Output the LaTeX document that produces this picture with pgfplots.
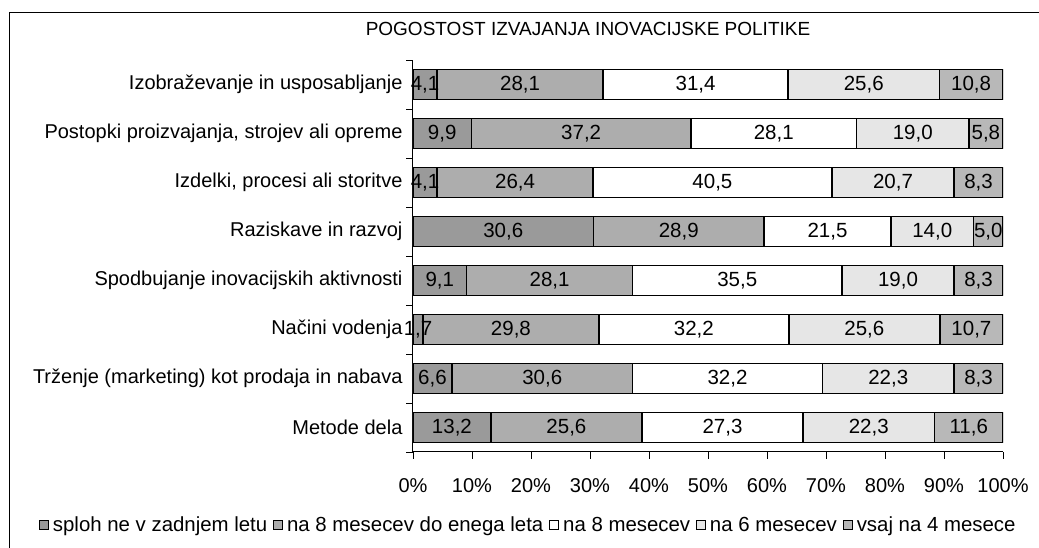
\documentclass[border=0pt]{standalone}
\usepackage{pgfplots}
\usepackage{pgfplotstable}
\pgfplotsset{compat=1.18}
\usepackage{fontspec}
\setmainfont{Liberation Sans}
\definecolor{cA}{HTML}{9A9A9A}
\definecolor{cB}{HTML}{ADADAD}
\definecolor{cC}{HTML}{FFFFFF}
\definecolor{cD}{HTML}{E6E6E6}
\definecolor{cE}{HTML}{B8B8B8}
\pgfplotstableread{
y a b c d e
7 4.1 28.1 31.4 25.6 10.8
6 9.9 37.2 28.1 19.0 5.8
5 4.1 26.4 40.5 20.7 8.3
4 30.6 28.9 21.5 14.0 5.0
3 9.1 28.1 35.5 19.0 8.3
2 1.7 29.8 32.2 25.6 10.7
1 6.6 30.6 32.2 22.3 8.3
0 13.2 25.6 27.3 22.3 11.6
}\data
\pgfplotsset{
  geom/.style={at={(413pt,96pt)}, anchor=south west,
    scale only axis, width=590pt, height=392pt,
    xmin=0, xmax=100, ymin=-0.5, ymax=7.5},
  lbl/.style={only marks, mark=none, draw=none, nodes near coords,
    point meta=#1,
    nodes near coords={\pgfmathprintnumber[fixed,fixed zerofill,precision=1,use comma,assume math mode=true]{\pgfplotspointmeta}},
    every node near coord/.style={anchor=center, inner sep=0pt, font=\fontsize{20.5}{24}\selectfont, text=black}},
}
\begin{document}
\begin{tikzpicture}
\useasboundingbox (0pt,0pt) rectangle (1039pt,548pt);
\clip (0pt,0pt) rectangle (1039pt,548pt);
\fill[white] (0pt,0pt) rectangle (1039pt,548pt);
\draw[line width=1pt] (9pt,-2pt) -- (9pt,535pt) -- (1045pt,535pt);
\node[font=\fontsize{19}{22}\selectfont] at (588pt,519pt) {POGOSTOST IZVAJANJA INOVACIJSKE POLITIKE};
\begin{axis}[
  geom,
  xbar stacked, bar width=30pt,
  axis x line*=bottom, axis y line*=left,
  axis line style={line width=1pt},
  tick align=outside, major tick length=7pt,
  tick style={black, line width=0.8pt},
  xtick={0,10,...,100},
  xticklabel={\pgfmathprintnumber{\tick}\%},
  xticklabel style={yshift=-16pt},
  ytick={-0.5,0.5,...,7.5}, yticklabels={},
  extra y ticks={0,1,2,3,4,5,6,7},
  extra y tick labels={Metode dela, Trženje (marketing) kot prodaja in nabava, Načini vodenja, Spodbujanje inovacijskih aktivnosti, Raziskave in razvoj, {Izdelki, procesi ali storitve}, {Postopki proizvajanja, strojev ali opreme}, Izobraževanje in usposabljanje},
  extra y tick style={major tick length=0pt, yticklabel style={xshift=-7pt}},
  tick label style={font=\fontsize{20}{24}\selectfont},
  /pgf/number format/assume math mode=true,
  every axis plot/.append style={draw=black, line width=1.5pt},
  legend columns=-1,
  legend style={draw=none, fill=none, inner sep=0pt, at={(-0.634,-0.186)}, anchor=west, font=\fontsize{20.4}{25}\selectfont,
    /tikz/every odd column/.append style={column sep=2pt},
    /tikz/every even column/.append style={column sep=4pt}},
  legend image code/.code={\draw[#1, line width=0.8pt] (0pt,-4.5pt) rectangle (9pt,4.5pt);},
]
\addplot[fill=cA] table[x=a,y=y]{\data};
\addplot[fill=cB] table[x=b,y=y]{\data};
\addplot[fill=cC] table[x=c,y=y]{\data};
\addplot[fill=cD] table[x=d,y=y]{\data};
\addplot[fill=cE] table[x=e,y=y]{\data};
\legend{sploh ne v zadnjem letu, na 8 mesecev do enega leta, na 8 mesecev, na 6 mesecev, vsaj na 4 mesece}
\end{axis}
\begin{axis}[geom, hide axis]
\addplot[lbl=\thisrow{a}] table[x expr=\thisrow{a}/2, y=y]{\data};
\addplot[lbl=\thisrow{b}] table[x expr=\thisrow{a}+\thisrow{b}/2, y=y]{\data};
\addplot[lbl=\thisrow{c}] table[x expr=\thisrow{a}+\thisrow{b}+\thisrow{c}/2, y=y]{\data};
\addplot[lbl=\thisrow{d}] table[x expr=\thisrow{a}+\thisrow{b}+\thisrow{c}+\thisrow{d}/2, y=y]{\data};
\addplot[lbl=\thisrow{e}] table[x expr=\thisrow{a}+\thisrow{b}+\thisrow{c}+\thisrow{d}+\thisrow{e}/2, y=y]{\data};
\end{axis}
\end{tikzpicture}
\end{document}
